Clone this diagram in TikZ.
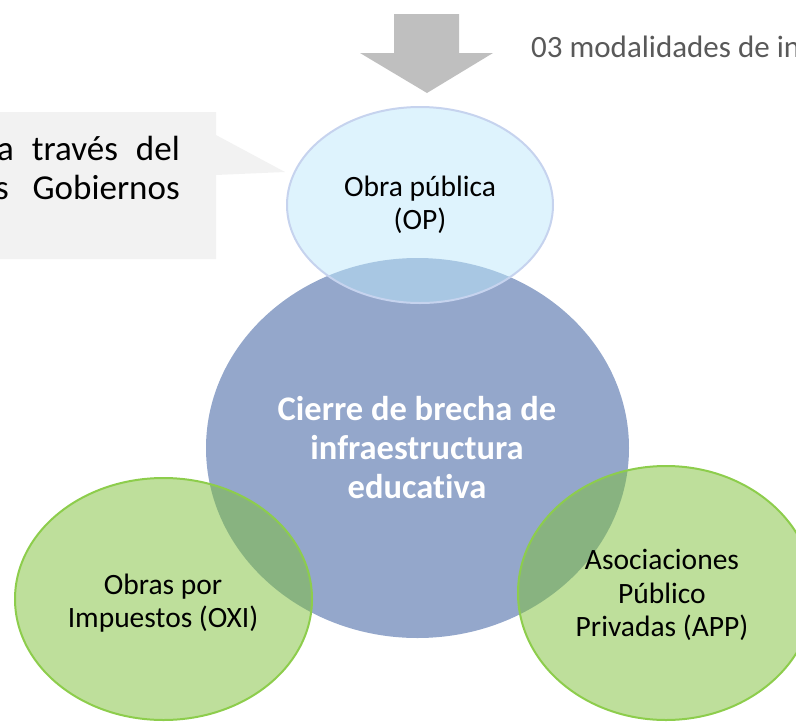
\documentclass[tikz,border=0pt]{standalone}
\usepackage{fontspec}
\setmainfont{Carlito}[Ligatures=NoCommon]
\usetikzlibrary{shapes.geometric}
\definecolor{centerfill}{RGB}{148,167,203}
\definecolor{opfill}{RGB}{189,231,251}
\definecolor{opdraw}{RGB}{198,211,238}
\definecolor{greenfill}{RGB}{125,191,55}
\definecolor{greendraw}{RGB}{141,205,76}
\definecolor{arrowgray}{RGB}{191,191,191}
\definecolor{calloutgray}{RGB}{242,242,242}
\definecolor{textgray}{RGB}{89,89,89}
\begin{document}
\begin{tikzpicture}[x=1pt,y=-1pt,
  bubble/.style={ellipse, inner sep=0pt, outer sep=0pt},
  opbubble/.style={bubble, fill=opfill, fill opacity=0.5, draw=opdraw, line width=2pt},
  greenbubble/.style={bubble, fill=greenfill, fill opacity=0.5, draw=greendraw, line width=2pt},
  labeltext/.style={align=center, inner sep=0pt, font=\fontsize{29.5}{33.5}\selectfont},
  callouttext/.style={anchor=base east, inner sep=0pt, font=\fontsize{35}{40}\selectfont}]
\useasboundingbox (0,0) rectangle (796,721);
\clip (0,0) rectangle (796,721);
% downward arrow
\fill[arrowgray] (394,14) -- (459,14) -- (459,53) -- (493,53) -- (427,93) -- (360,53) -- (394,53) -- cycle;
\node[anchor=base west, inner sep=0pt, text=textgray, font=\fontsize{31}{36}\selectfont] (modal) at (531,57) {03 modalidades de in};
% callout
\fill[calloutgray] (-5,112) -- (216,112) -- (216,135) -- (285,172) -- (216,175) -- (216,259) -- (-5,259) -- cycle;
\node[callouttext] (call1) at (180,160) {a\hspace{18pt}través\hspace{18pt}del};
\node[callouttext] (call2) at (180,199) {s\hspace{24pt}Gobiernos};
% ellipses
\node[bubble, fill=centerfill, minimum width=423pt, minimum height=380pt] (center) at (417.5,448) {};
\node[opbubble, minimum width=266pt, minimum height=196pt] (op) at (420,205) {};
\node[greenbubble, minimum width=297pt, minimum height=242pt] (oxi) at (163.5,599) {};
\node[greenbubble, minimum width=296pt, minimum height=254pt] (app) at (666,593) {};
% texts
\node[labeltext] (optext) at (420,205) {Obra pública\\(OP)};
\node[align=center, inner sep=0pt, text=white, font=\bfseries\fontsize{34.5}{39}\selectfont] (ctext) at (417,448) {Cierre de brecha de\\infraestructura\\educativa};
\node[labeltext] (oxitext) at (163,603) {Obras por\\Impuestos (OXI)};
\node[labeltext] (apptext) at (662,595) {Asociaciones\\Público\\Privadas (APP)};
\end{tikzpicture}
\end{document}
